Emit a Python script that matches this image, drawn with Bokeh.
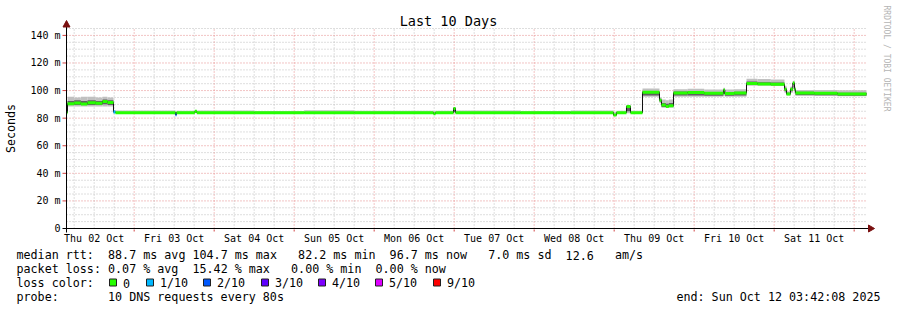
import math
from bokeh.plotting import figure
from bokeh.models import FixedTicker, Range1d, ColumnDataSource
from bokeh.core.properties import value
from bokeh.embed import file_html
from bokeh.resources import INLINE

# ---------------- data ----------------
# time in hours since Thu 02 Oct 00:00; window ends Sun Oct 12 03:42:08
t_start = 3.7022
t_end = 243.7022
day_ticks = [12, 36, 60, 84, 108, 132, 156, 180, 204, 228]
day_labels = ["Thu 02 Oct", "Fri 03 Oct", "Sat 04 Oct", "Sun 05 Oct", "Mon 06 Oct",
              "Tue 07 Oct", "Wed 08 Oct", "Thu 09 Oct", "Fri 10 Oct", "Sat 11 Oct"]
midnight_ticks = [24, 48, 72, 96, 120, 144, 168, 192, 216, 240]
six_hour_ticks = [6, 12, 18, 30, 36, 42, 54, 60, 66, 78, 84, 90, 102, 108, 114,
                  126, 132, 138, 150, 156, 162, 174, 180, 186, 198, 204, 210,
                  222, 228, 234]
y_ticks = [0, 20, 40, 60, 80, 100, 120, 140]
y_tick_labels = ["0", "20 m", "40 m", "60 m", "80 m", "100 m", "120 m", "140 m"]
y_minor_ticks = [5, 10, 15, 25, 30, 35, 45, 50, 55, 65, 70, 75, 85, 90, 95,
                 105, 110, 115, 125, 130, 135, 145]
y_top = 145.0

seg_start = [3.70, 4.00, 6.00, 8.00, 10.00, 12.50, 14.50, 16.00, 17.80, 18.40,
             36.40, 36.70, 42.20, 42.80, 60.00, 75.00, 90.00, 113.80, 114.40, 119.80,
             120.40, 140.00, 155.00, 167.80, 168.70, 171.70, 172.90, 176.50, 181.60, 182.20,
             183.50, 184.40, 185.80, 190.00, 195.00, 200.80, 201.20, 204.00, 207.70, 211.00,
             215.00, 219.10, 219.70, 220.90, 221.60, 222.10, 222.40, 228.00, 235.00]
seg_end = seg_start[1:] + [243.70]
median_ms = [84.0, 90.5, 91.0, 90.3, 91.2, 90.8, 92.0, 91.3, 84.5, 84.0,
             82.5, 84.0, 85.0, 84.0, 84.0, 84.0, 84.0, 83.2, 84.0, 87.0,
             84.0, 84.0, 84.0, 82.2, 84.0, 88.5, 84.0, 98.8, 93.0, 89.5,
             88.5, 89.0, 98.3, 98.6, 98.0, 100.5, 97.8, 98.2, 105.2, 104.8,
             104.5, 101.0, 97.5, 101.0, 105.5, 101.0, 98.3, 98.0, 97.6]
smoke_lo_ms = [83.5, 88.5, 88.5, 88.5, 88.5, 88.5, 88.5, 88.5, 83.5, 83.5,
               82.0, 83.5, 83.5, 83.3, 83.5, 83.3, 83.5, 82.8, 83.5, 83.5,
               83.3, 83.5, 83.3, 81.8, 83.5, 83.5, 83.3, 95.5, 91.0, 87.5,
               87.5, 87.5, 95.5, 95.5, 95.5, 96.5, 95.5, 95.5, 103.5, 103.5,
               103.3, 98.5, 96.5, 98.5, 102.5, 98.5, 96.0, 96.0, 95.8]
smoke_hi_ms = [85.0, 95.5, 95.0, 95.5, 95.5, 95.0, 95.5, 95.0, 86.0, 85.6,
               84.5, 85.3, 85.8, 85.6, 85.2, 85.7, 85.4, 85.2, 85.4, 88.0,
               85.5, 85.2, 85.6, 84.5, 85.4, 89.5, 85.3, 101.5, 95.0, 93.5,
               93.0, 93.5, 101.0, 101.3, 100.8, 102.0, 100.8, 101.0, 108.5, 108.3,
               108.0, 103.5, 99.5, 103.0, 107.0, 103.0, 100.5, 100.5, 100.3]
core_lo_ms = [83.8, 89.5, 89.5, 89.5, 89.5, 89.5, 90.0, 89.5, 84.0, 83.8,
              82.3, 83.8, 84.0, 83.8, 83.8, 83.8, 83.8, 83.0, 83.8, 84.5,
              83.8, 83.8, 83.8, 82.0, 83.8, 85.0, 83.8, 96.5, 92.0, 88.0,
              88.0, 88.0, 96.5, 96.5, 96.3, 97.5, 96.3, 96.5, 104.0, 104.0,
              103.8, 99.5, 97.0, 99.5, 104.0, 99.5, 96.8, 96.6, 96.3]
core_hi_ms = [84.3, 92.5, 93.0, 92.5, 93.0, 92.5, 93.5, 93.0, 85.0, 84.4,
              83.5, 84.4, 85.2, 84.4, 84.4, 84.4, 84.4, 83.8, 84.4, 87.5,
              84.4, 84.4, 84.4, 83.0, 84.4, 88.8, 84.4, 99.5, 94.0, 91.0,
              90.5, 91.0, 99.3, 99.5, 99.0, 101.0, 98.8, 99.2, 106.5, 106.0,
              105.8, 102.0, 98.5, 102.0, 106.0, 102.0, 99.2, 99.0, 98.5]
loss_tenths = [0, 0, 0, 0, 0, 0, 0, 0, 1, 0,
               2, 0, 0, 0, 0, 0, 0, 0, 0, 0,
               0, 0, 0, 0, 0, 0, 0, 0, 0, 0,
               0, 0, 0, 0, 0, 0, 0, 0, 0, 0,
               0, 0, 0, 0, 0, 0, 0, 0, 0]

loss_levels = ["0", "1/10", "2/10", "3/10", "4/10", "5/10", "9/10"]
loss_level_tenths = [0, 1, 2, 3, 4, 5, 9]
loss_colors = ["#26ff00", "#00b8ff", "#0059ff", "#5e00ff", "#7e00ff", "#dd00ff", "#ff0000"]

# legend texts, each item with its character column
rtt_items = ["median rtt:", "88.7 ms avg", "104.7 ms max", "82.2 ms min",
             "96.7 ms now", "7.0 ms sd", "12.6", "am/s"]
rtt_cols = [0, 13, 25, 40, 53, 67, 78, 85]
loss_items = ["packet loss:", "0.07 % avg", "15.42 % max", "0.00 % min", "0.00 % now"]
loss_cols = [0, 13, 25, 39, 51]
color_items = ["loss color:"]
color_cols = [0]
probe_items = ["probe:", "10 DNS requests every 80s"]
probe_cols = [0, 13]
end_text = "end: Sun Oct 12 03:42:08 2025"
title_text = "Last 10 Days"
watermark_text = "RRDTOOL / TOBI OETIKER"
y_label = "Seconds"

# ---------------- layout (canvas pixel -> data) ----------------
W, H = 897, 310
AX_L, AX_T, AX_W, AX_H = 66, 28, 800, 200      # data window of the chart


def cx(px):
    return t_start + (px - AX_L) * (t_end - t_start) / AX_W


def cy(py):
    return (AX_T + AX_H - py) * y_top / AX_H


MONO = "DejaVu Sans Mono"

p = figure(width=W, height=H, x_range=Range1d(cx(0), cx(W)),
           y_range=Range1d(cy(H), cy(0)), output_backend="svg",
           toolbar_location=None, min_border=0)
p.outline_line_color = None
p.background_fill_color = "white"
p.border_fill_color = "white"
p.xgrid.visible = False
p.ygrid.visible = False

# axes drawn at the edges of the data window
p.xaxis.fixed_location = 0
p.yaxis.fixed_location = t_start
p.xaxis.bounds = (t_start, t_end)
p.yaxis.bounds = (0, y_top)
p.xaxis.ticker = FixedTicker(ticks=day_ticks)
p.xaxis.major_label_overrides = {t: l for t, l in zip(day_ticks, day_labels)}
p.yaxis.ticker = FixedTicker(ticks=y_ticks)
p.yaxis.major_label_overrides = {t: l for t, l in zip(y_ticks, y_tick_labels)}
for ax in (p.xaxis[0], p.yaxis[0]):
    ax.axis_line_color = None
    ax.major_tick_line_color = None
    ax.minor_tick_line_color = None
    ax.major_tick_out = 0
    ax.major_tick_in = 0
    ax.minor_tick_out = 0
    ax.minor_tick_in = 0
    ax.major_label_text_font = MONO
    ax.major_label_text_font_size = "10px"
    ax.major_label_text_color = "black"
p.xaxis.major_label_standoff = 4
p.yaxis.major_label_standoff = 6
p.yaxis.axis_label = y_label
p.yaxis.axis_label_text_font = MONO
p.yaxis.axis_label_text_font_size = "11.7px"
p.yaxis.axis_label_text_font_style = "normal"
p.yaxis.axis_label_text_color = "black"
p.yaxis.axis_label_standoff = 9

# grid lines (dotted), limited to the data window
minor_col = "#bdbdbd"
major_col = "#e58a8a"
p.segment(x0=six_hour_ticks, y0=[0] * len(six_hour_ticks), x1=six_hour_ticks,
          y1=[y_top] * len(six_hour_ticks), line_color=minor_col, line_dash="1 2")
p.segment(x0=[t_start] * len(y_minor_ticks), y0=y_minor_ticks,
          x1=[t_end] * len(y_minor_ticks), y1=y_minor_ticks,
          line_color=minor_col, line_dash="1 2")
p.segment(x0=midnight_ticks, y0=[0] * len(midnight_ticks), x1=midnight_ticks,
          y1=[y_top] * len(midnight_ticks), line_color=major_col, line_dash="1 2")
p.segment(x0=[t_start] * (len(y_ticks) - 1), y0=y_ticks[1:],
          x1=[t_end] * (len(y_ticks) - 1), y1=y_ticks[1:],
          line_color=major_col, line_dash="1 2")
# small major tick marks outside the axes
p.segment(x0=midnight_ticks, y0=[cy(229)] * len(midnight_ticks), x1=midnight_ticks,
          y1=[cy(231)] * len(midnight_ticks), line_color="#d04040")
p.segment(x0=[cx(62)] * (len(y_ticks) - 1), y0=y_ticks[1:],
          x1=[cx(65.5)] * (len(y_ticks) - 1), y1=y_ticks[1:], line_color="#d04040")

# smoke
src = ColumnDataSource(dict(l=seg_start, r=seg_end, lo=smoke_lo_ms, hi=smoke_hi_ms,
                            clo=core_lo_ms, chi=core_hi_ms, med=median_ms,
                            col=[loss_colors[loss_level_tenths.index(v)] for v in loss_tenths]))
p.quad(left="l", right="r", bottom="lo", top="hi", source=src,
       fill_color="#c0c0c0", line_color=None)
p.quad(left="l", right="r", bottom="clo", top="chi", source=src,
       fill_color="#606060", line_color=None)

# median (dark step + loss-coloured segments)
p.step(x=seg_start + [seg_end[-1]], y=median_ms + [median_ms[-1]], mode="after",
       line_color="#101010", line_width=1)
p.segment(x0="l", y0="med", x1="r", y1="med", source=src, line_color="col",
          line_width=3)

# axis lines and arrow heads
head_col = "#7a1010"
p.segment(x0=[t_start, cx(62)], y0=[cy(232), 0], x1=[t_start, cx(869)], y1=[cy(24), 0],
          line_color="black", line_width=1)
p.patches(xs=[[cx(62.5), cx(69.5), t_start], [cx(868), cx(868), cx(874)]],
          ys=[[cy(26.5), cy(26.5), cy(20)], [cy(224.5), cy(231.5), 0]],
          fill_color=head_col, line_color=head_col)

# title and watermark
p.text(x=[cx(448)], y=[cy(20)], text=[title_text], text_align="center",
       text_baseline="middle", text_font=value(MONO), text_font_size=value("13.5px"),
       text_color="black")
p.text(x=[cx(886)], y=[cy(5)], text=[watermark_text], angle=-math.pi / 2,
       text_align="left", text_baseline="middle", text_font=value(MONO),
       text_font_size=value("8px"), text_color="#b4b4b4")

# ---------------- legend ----------------
CW = 7.04
LX = 16
tok_x, tok_y, tok_t = [], [], []
for items, cols, py in ((rtt_items, rtt_cols, 254.5), (loss_items, loss_cols, 268.5),
                        (color_items, color_cols, 282.5), (probe_items, probe_cols, 296.5)):
    for it, c in zip(items, cols):
        tok_x.append(cx(LX + c * CW))
        tok_y.append(cy(py))
        tok_t.append(it)
box_left = [109, 146, 203, 261, 318, 375, 433]
for bl, lvl in zip(box_left, loss_levels):
    tok_x.append(cx(bl + 13.5))
    tok_y.append(cy(282.5))
    tok_t.append(lvl)

p.text(x=tok_x, y=tok_y, text=tok_t, text_align="left", text_baseline="middle",
       text_font=value(MONO), text_font_size=value("11.7px"), text_color="black")
p.text(x=[cx(880)], y=[cy(296.5)], text=[end_text], text_align="right",
       text_baseline="middle", text_font=value(MONO), text_font_size=value("11.7px"),
       text_color="black")
p.quad(left=[cx(b) for b in box_left], right=[cx(b + 7) for b in box_left],
       top=[cy(278.5)] * len(box_left), bottom=[cy(285.5)] * len(box_left),
       fill_color=loss_colors, line_color="#202020", line_width=1)

open("out.html", "w").write(file_html(p, INLINE))
